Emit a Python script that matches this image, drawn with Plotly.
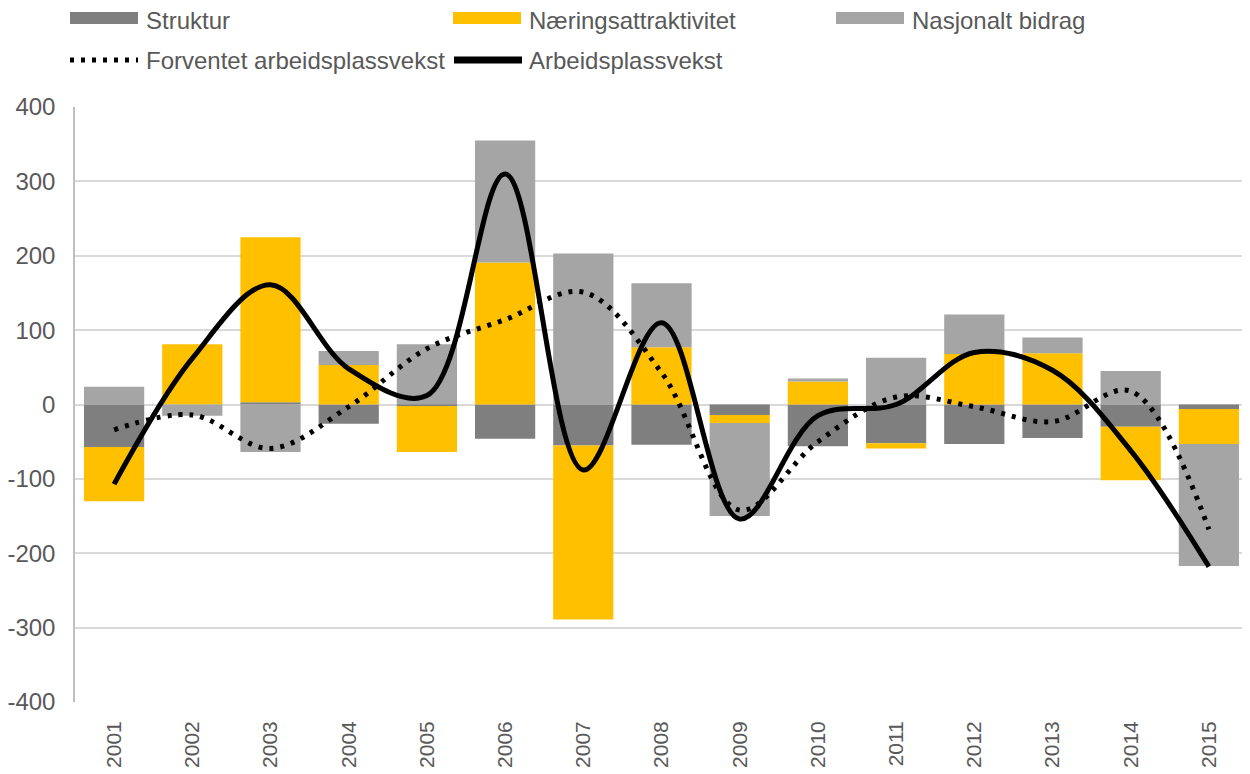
import plotly.graph_objects as go

years = [str(y) for y in range(2001, 2016)]
struktur = [-57, 0, 3, -26, -2, -46, -55, -54, -14, -56, -52, -53, -45, -30, -6]
naering = [-73, 81, 222, 53, -62, 191, -234, 77, -11, 31, -7, 68, 69, -72, -47]
nasjonalt = [24, -15, -64, 19, 81, 164, 203, 86, -125, 4, 63, 53, 21, 45, -164]
forventet = [-34, -14, -59, -3, 75, 114, 151, 43, -142, -50, 10, -3, -23, 18, -168]
arbeid = [-107, 62, 161, 48, 12, 310, -88, 110, -154, -15, 0, 70, 46, -62, -218]

y_ticks = [-400, -300, -200, -100, 0, 100, 200, 300, 400]
y_ticktext = [str(v) for v in y_ticks]

names = ["Struktur", "Næringsattraktivitet", "Nasjonalt bidrag",
         "Forventet arbeidsplassvekst", "Arbeidsplassvekst"]
colors = ["#7f7f7f", "#ffc000", "#a5a5a5"]

# the page places the figure 8px in from the top-left corner
OFF = 8
W, H = 1250, 774
PL, PR, PT, PB = 75, 1248, 107, 702  # plot area in window pixels
ML = PL - OFF
MT = PT - OFF
MR = W - (PR - OFF)
MB = H - (PB - OFF)
FONT = "Liberation Sans, Arial, sans-serif"
TXT = "#595959"

fig = go.Figure()
for vals, name, col in zip([struktur, naering, nasjonalt], names[:3], colors):
    fig.add_trace(go.Bar(x=years, y=vals, name=name, marker=dict(color=col, line=dict(width=0)),
                         showlegend=False))

fig.add_trace(go.Scatter(x=years, y=forventet, name=names[3], mode="lines",
                         line=dict(color="black", width=5, dash="4px,7px", shape="spline", smoothing=1.0),
                         showlegend=False))
fig.add_trace(go.Scatter(x=years, y=arbeid, name=names[4], mode="lines",
                         line=dict(color="black", width=5, shape="spline", smoothing=1.0),
                         showlegend=False))

pw = PR - PL
ph = PB - PT


def px(x):
    return (x - PL) / pw


def py(y):
    return (PB - y) / ph


shapes = []
annotations = []
leg_cols = [70, 453, 836]
ROW1, ROW2 = 18, 60
LEG_FONT = dict(family=FONT, size=24, color=TXT)
for i in range(3):
    x0 = leg_cols[i]
    shapes.append(dict(type="rect", xref="paper", yref="paper",
                       x0=px(x0), x1=px(x0 + 68), y0=py(ROW1 + 6), y1=py(ROW1 - 6),
                       fillcolor=colors[i], line=dict(width=0)))
    annotations.append(dict(text=names[i], xref="paper", yref="paper",
                            x=px(x0 + 74), y=py(ROW1 + 2), xanchor="left", yanchor="middle",
                            showarrow=False, font=LEG_FONT))
shapes.append(dict(type="line", xref="paper", yref="paper",
                   x0=px(70), x1=px(138), y0=py(ROW2), y1=py(ROW2),
                   line=dict(color="black", width=5, dash="4px,7px")))
annotations.append(dict(text=names[3], xref="paper", yref="paper",
                        x=px(144), y=py(ROW2), xanchor="left", yanchor="middle",
                        showarrow=False, font=LEG_FONT))
shapes.append(dict(type="line", xref="paper", yref="paper",
                   x0=px(454), x1=px(522), y0=py(ROW2), y1=py(ROW2),
                   line=dict(color="black", width=7)))
annotations.append(dict(text=names[4], xref="paper", yref="paper",
                        x=px(527), y=py(ROW2), xanchor="left", yanchor="middle",
                        showarrow=False, font=LEG_FONT))

fig.update_layout(
    width=W, height=H,
    margin=dict(l=ML, r=MR, t=MT, b=MB, pad=0),
    barmode="relative", bargap=0.23,
    plot_bgcolor="white", paper_bgcolor="white",
    font=dict(family=FONT, color=TXT),
    showlegend=False,
    shapes=shapes, annotations=annotations,
    xaxis=dict(type="category", tickangle=-90, showgrid=False, showline=False,
               ticks="", tickfont=dict(size=21, color=TXT), ticklabelstandoff=14,
               zeroline=False, automargin=False),
    yaxis=dict(range=[-400, 400], tickvals=y_ticks, ticktext=y_ticktext,
               showgrid=True, gridcolor="#d9d9d9", gridwidth=1.5,
               zeroline=True, zerolinecolor="#d9d9d9", zerolinewidth=1.5,
               showline=True, linecolor="#bfbfbf", linewidth=1.5,
               ticks="", tickfont=dict(size=24, color=TXT), ticklabelstandoff=13,
               automargin=False),
)

fig.write_html("out.html")
